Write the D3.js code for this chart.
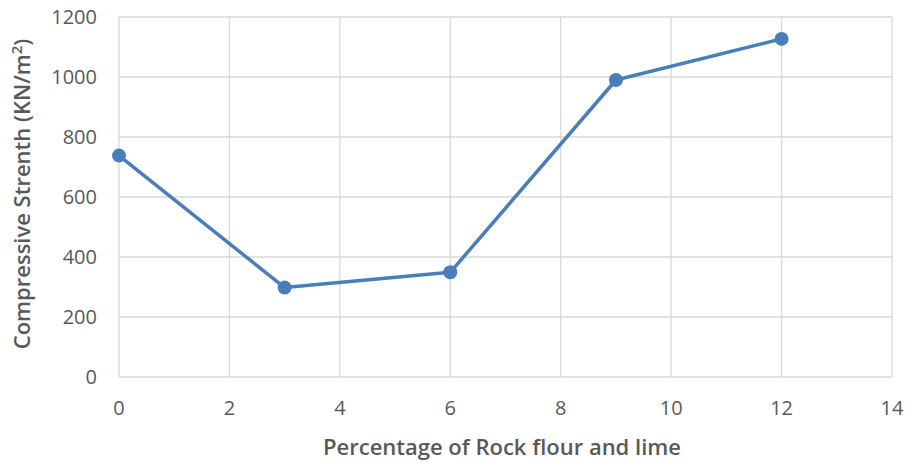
<!DOCTYPE html>
<html>
<head>
<meta charset="utf-8">
<script src="https://cdn.jsdelivr.net/npm/d3@7"></script>
<style>
  body { margin: 0; background: #fff; }
  text { font-family: "Open Sans", sans-serif; fill: #595959; }
</style>
</head>
<body>
<svg id="chart" width="909" height="464"></svg>
<script>
const percentages = [0, 3, 6, 9, 12];
const strengths = [738, 298, 349, 990, 1127];
const xTicks = [0, 2, 4, 6, 8, 10, 12, 14];
const yTicks = [0, 200, 400, 600, 800, 1000, 1200];

const width = 909, height = 464;
const margin = { left: 119, right: 17, top: 17, bottom: 87 };
const lineColor = "#4a7ebb";
const gridColor = "#d9d9d9";

const svg = d3.select("#chart");

const x = d3.scaleLinear().domain([0, 14]).range([margin.left, width - margin.right]);
const y = d3.scaleLinear().domain([0, 1200]).range([height - margin.bottom, margin.top]);

// grid
svg.append("g")
    .selectAll("line")
    .data(xTicks)
    .enter().append("line")
    .attr("x1", d => x(d)).attr("x2", d => x(d))
    .attr("y1", y(0)).attr("y2", y(1200))
    .attr("stroke", gridColor).attr("stroke-width", 1.3);

svg.append("g")
    .selectAll("line")
    .data(yTicks)
    .enter().append("line")
    .attr("x1", x(0)).attr("x2", x(14))
    .attr("y1", d => y(d)).attr("y2", d => y(d))
    .attr("stroke", gridColor).attr("stroke-width", 1.3);

// tick labels
svg.append("g")
    .selectAll("text")
    .data(yTicks)
    .enter().append("text")
    .attr("x", 97)
    .attr("y", d => y(d))
    .attr("dy", "0.36em")
    .attr("text-anchor", "end")
    .attr("font-size", 20)
    .text(d => d);

svg.append("g")
    .selectAll("text")
    .data(xTicks)
    .enter().append("text")
    .attr("x", d => x(d))
    .attr("y", 415)
    .attr("text-anchor", "middle")
    .attr("font-size", 20)
    .text(d => d);

// axis titles
svg.append("text")
    .attr("x", 502)
    .attr("y", 455)
    .attr("text-anchor", "middle")
    .attr("font-size", 22)
    .attr("font-weight", 600)
    .text("Percentage of Rock flour and lime");

const yTitle = svg.append("text")
    .attr("transform", "translate(30,194) rotate(-90)")
    .attr("text-anchor", "middle")
    .attr("font-size", 22)
    .attr("font-weight", 600);
yTitle.append("tspan").text("Compressive Strenth (KN/m");
yTitle.append("tspan").attr("font-size", 15).attr("dy", -8).text("2");
yTitle.append("tspan").attr("dy", 8).text(")");

// series
const points = percentages.map((p, i) => ({ p: p, v: strengths[i] }));

svg.append("path")
    .datum(points)
    .attr("fill", "none")
    .attr("stroke", lineColor)
    .attr("stroke-width", 3.5)
    .attr("stroke-linejoin", "round")
    .attr("d", d3.line().x(d => x(d.p)).y(d => y(d.v)));

svg.append("g")
    .selectAll("circle")
    .data(points)
    .enter().append("circle")
    .attr("cx", d => x(d.p))
    .attr("cy", d => y(d.v))
    .attr("r", 7)
    .attr("fill", lineColor);
</script>
</body>
</html>
